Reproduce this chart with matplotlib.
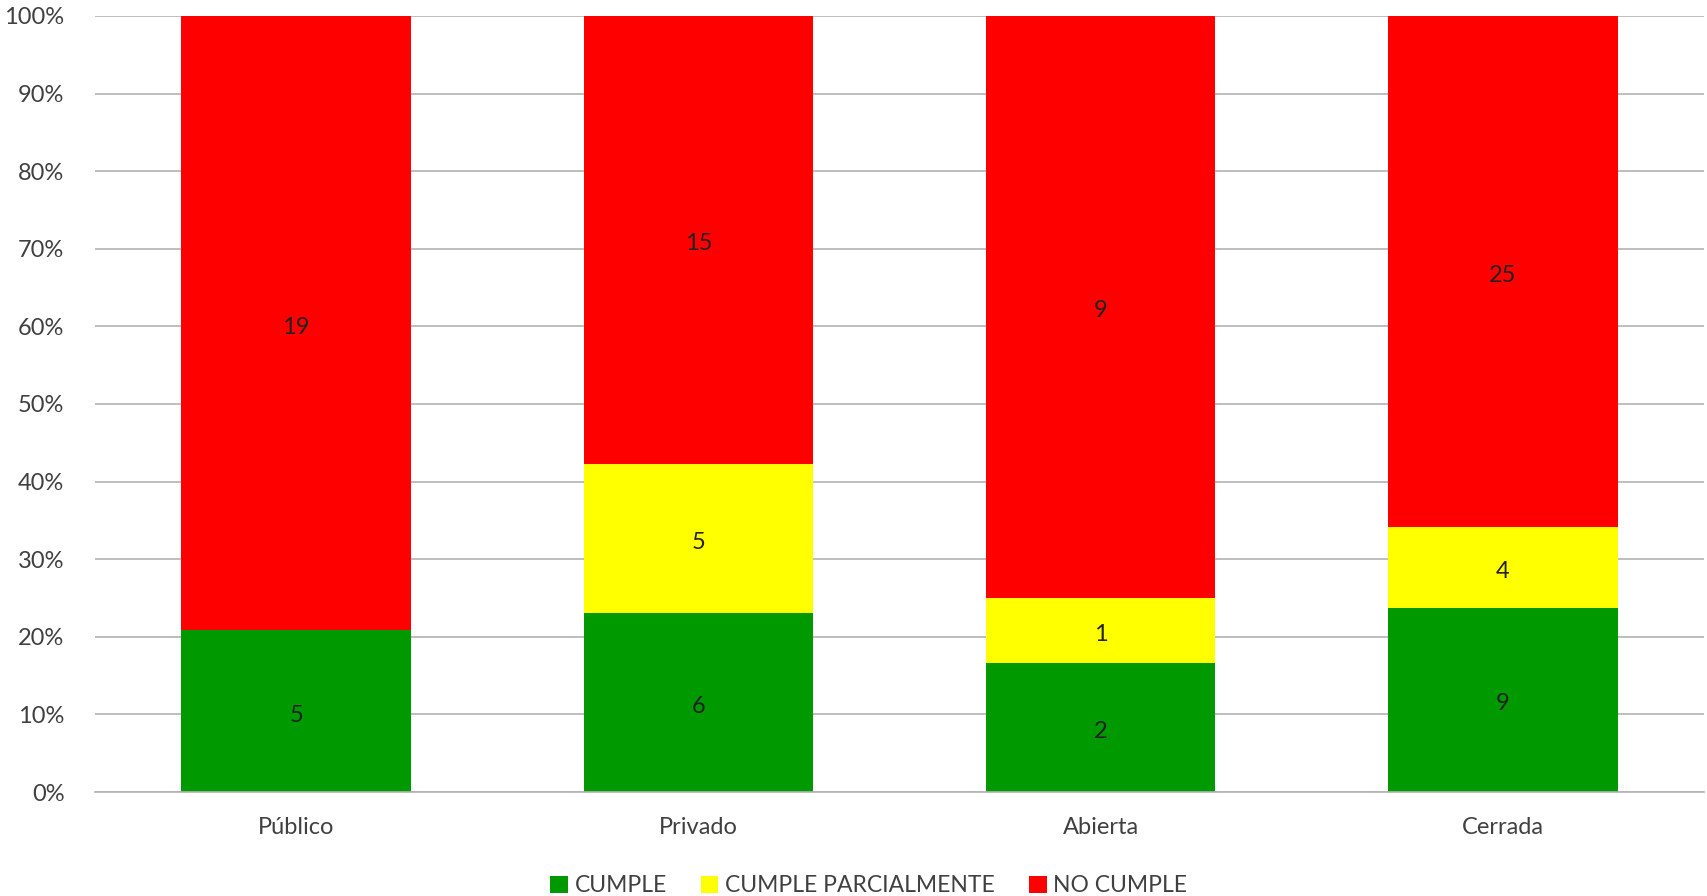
import numpy as np
import matplotlib.pyplot as plt
from matplotlib.ticker import PercentFormatter

# Conteos por categoría
categorias = ['Público', 'Privado', 'Abierta', 'Cerrada']
cumple = [5, 6, 2, 9]
cumple_parcial = [0, 5, 1, 4]
no_cumple = [19, 15, 9, 25]

series = [
    ('CUMPLE', cumple, '#009900'),
    ('CUMPLE PARCIALMENTE', cumple_parcial, '#FFFF00'),
    ('NO CUMPLE', no_cumple, '#FF0000'),
]

plt.rcParams['font.family'] = ['Lato', 'DejaVu Sans']

totales = np.array(cumple) + np.array(cumple_parcial) + np.array(no_cumple)
x = np.arange(len(categorias))

fig = plt.figure(figsize=(17.07, 8.96), dpi=100)
ax = fig.add_axes([95 / 1707, 1 - 792 / 896, 1609 / 1707, 776 / 896])

base = np.zeros(len(categorias))
for nombre, valores, color in series:
    vals = np.array(valores, dtype=float)
    frac = vals / totales
    ax.bar(x, frac, 0.57, bottom=base, color=color, label=nombre, zorder=2)
    for xi, b, f, v in zip(x, base, frac, vals):
        if v > 0:
            ax.text(xi, b + f / 2 - 0.005, f'{int(v)}', ha='center', va='center',
                    fontsize=17, color='#222222', zorder=3)
    base += frac

ax.set_xlim(-0.5, len(categorias) - 0.5)
ax.set_ylim(0, 1)
ax.set_yticks(np.arange(0, 1.01, 0.1))
ax.yaxis.set_major_formatter(PercentFormatter(1.0, decimals=0))
ax.set_xticks(x)
ax.set_xticklabels(categorias)
ax.tick_params(axis='both', length=0, labelsize=17, colors='#404040')
ax.tick_params(axis='x', pad=18)
ax.tick_params(axis='y', pad=22)
ax.grid(axis='y', color='#B3B3B3', linewidth=1.2, zorder=0)
for s in ['top', 'right', 'left']:
    ax.spines[s].set_visible(False)
ax.spines['bottom'].set_color('#B3B3B3')
ax.spines['bottom'].set_linewidth(1.2)

ax.legend(loc='center', bbox_to_anchor=(0.481, -0.121), ncol=3, frameon=False,
          fontsize=16.5, handlelength=0.75, handleheight=0.75, handletextpad=0.3,
          columnspacing=1.5, labelcolor='#404040', borderpad=0)

fig.savefig('out.png', dpi=100, facecolor='white')
